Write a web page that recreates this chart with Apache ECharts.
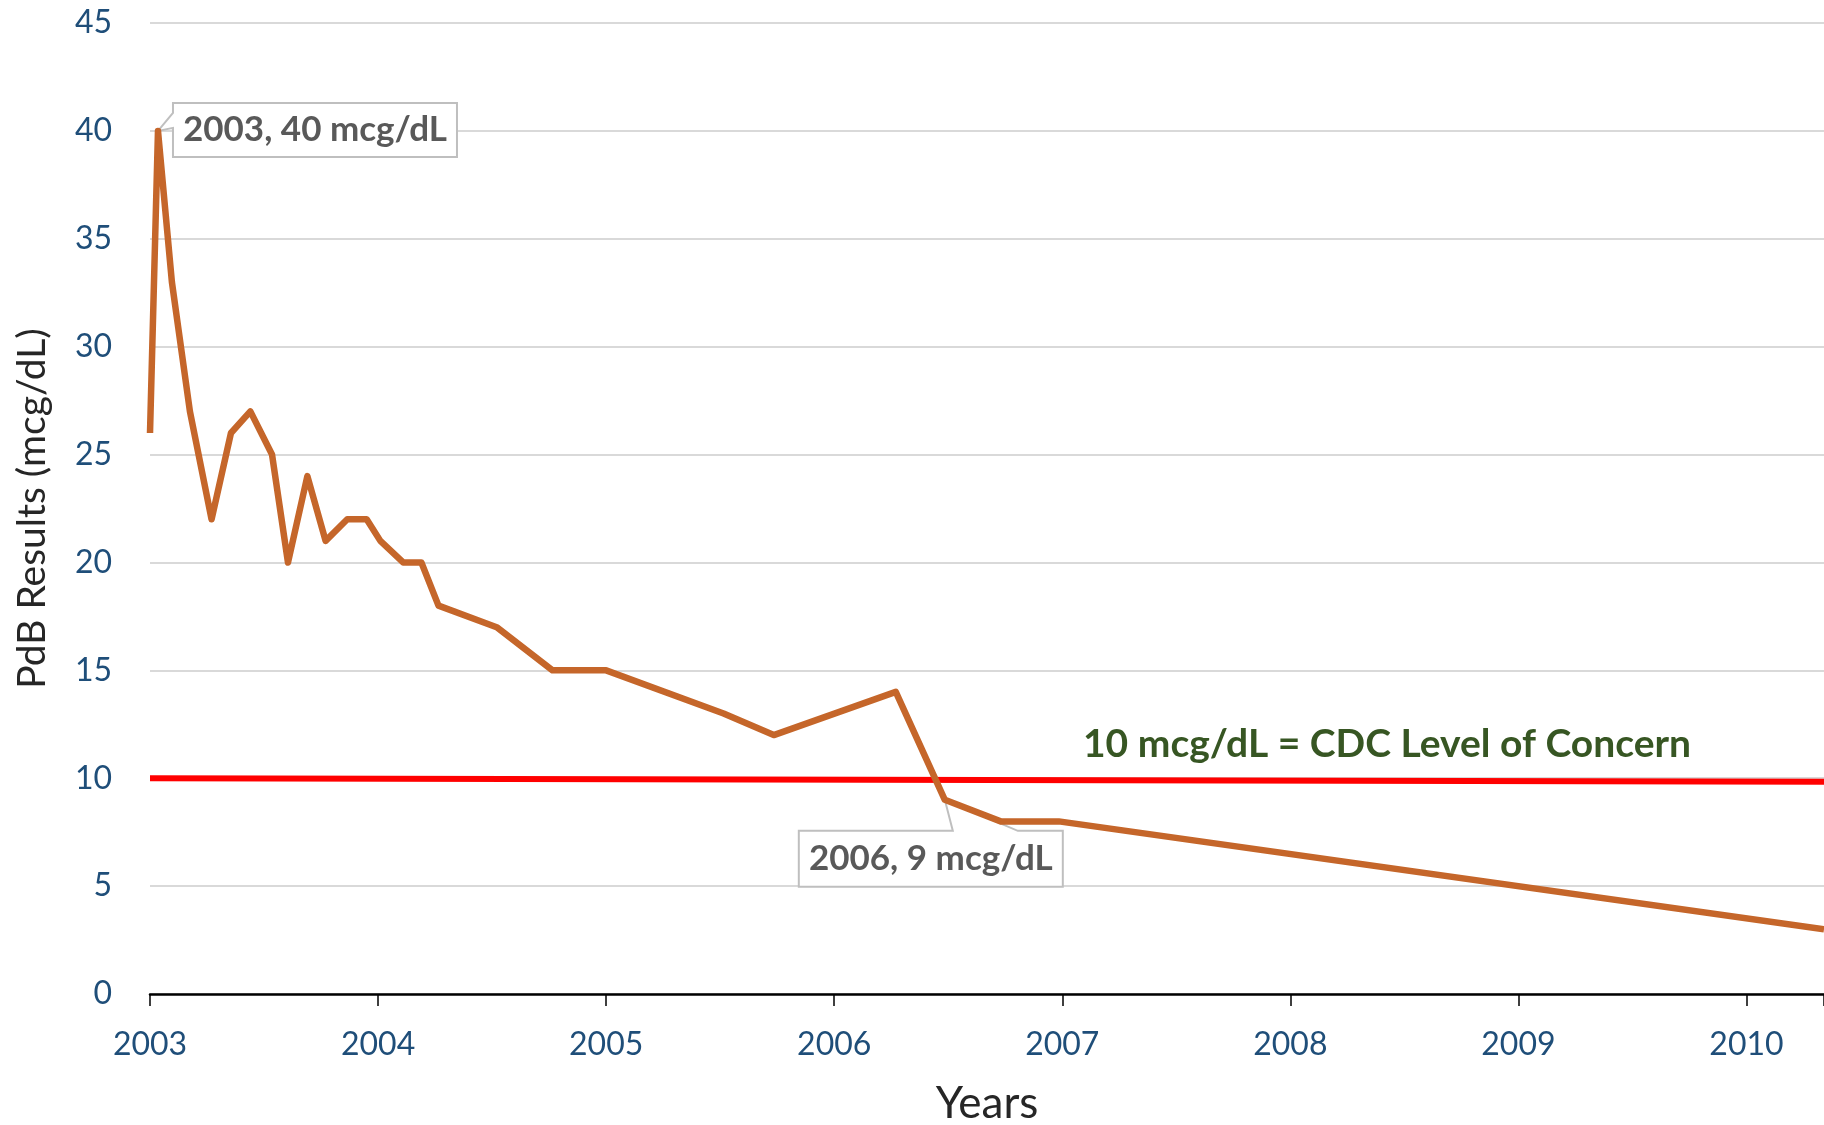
<!DOCTYPE html>
<html>
<head>
<meta charset="utf-8">
<script src="https://cdn.jsdelivr.net/npm/echarts@6/dist/echarts.min.js"></script>
<style>
  html, body { margin: 0; padding: 0; background: #fff; }
  #main { width: 1824px; height: 1125px; }
</style>
</head>
<body>
<div id="main"></div>
<script>
// PdB results over time (fractional years)
const years = [2003.0, 2003.035, 2003.096, 2003.175, 2003.27, 2003.355, 2003.44, 2003.535, 2003.605,
  2003.69, 2003.77, 2003.865, 2003.95, 2004.01, 2004.11, 2004.19, 2004.265, 2004.52, 2004.765,
  2005.0, 2005.515, 2005.735, 2006.27, 2006.485, 2006.73, 2006.985, 2010.34];
const pdb = [26, 40, 33, 27, 22, 26, 27, 25, 20, 24, 21, 22, 22, 21, 20, 20, 18, 17, 15,
  15, 13, 12, 14, 9, 8, 8, 3];

// CDC level of concern line (drawn slightly sloped in the original)
const cdcYears = [2003, 2010.34];
const cdcLevel = [10.0, 9.84];

// callouts
const noteYears = [2003.035, 2006.485];
const noteValues = [40, 9];
const noteTexts = ['2003, 40 mcg/dL', '2006, 9 mcg/dL'];

const yTicks = [0, 45, 5]; // min, max, step
const xRange = [2003, 2010.34];

// callout outlines relative to the anchor point (pixels)
const calloutShapes = [
  { outline: [[15, -28], [299, -28], [299, 26], [15, 26], [15, -3], [0, 0], [15, -18]], tx: 157, ty: -1 },
  { outline: [[-146, 31], [8, 31], [0, 0], [73, 31], [118, 31], [118, 87], [-146, 87]], tx: -14, ty: 59 }
];

var myChart = echarts.init(document.getElementById('main'));

const font = 'Lato, "Open Sans", sans-serif';

let option = {
  backgroundColor: '#fff',
  animation: false,
  grid: { left: 150, right: 0, top: 23, bottom: 131, outerBoundsMode: 'none', containLabel: false },
  xAxis: {
    type: 'value',
    min: xRange[0],
    max: xRange[1],
    interval: 1,
    name: 'Years',
    nameLocation: 'middle',
    nameGap: 88,
    nameTextStyle: { fontFamily: font, fontSize: 44, color: '#262626' },
    axisLine: { show: true, lineStyle: { color: '#000', width: 2.5 } },
    axisTick: { show: true, length: 12, lineStyle: { color: '#000', width: 1.5 } },
    axisLabel: {
      margin: 35,
      fontFamily: font, fontSize: 32, color: '#1F4E79',
      formatter: v => (Math.abs(v - Math.round(v)) < 1e-6 ? String(Math.round(v)) : '')
    },
    splitLine: { show: false }
  },
  yAxis: {
    type: 'value',
    min: yTicks[0],
    max: yTicks[1],
    interval: yTicks[2],
    name: 'PdB Results (mcg/dL)',
    nameLocation: 'middle',
    nameGap: 98,
    nameTextStyle: { fontFamily: font, fontSize: 39, color: '#262626' },
    axisLine: { show: false },
    axisTick: { show: false },
    axisLabel: { margin: 38, fontFamily: font, fontSize: 32, color: '#1F4E79' },
    splitLine: { lineStyle: { color: '#D9D9D9', width: 2 } }
  },
  graphic: [{
    type: 'text',
    left: 1083,
    top: 725,
    style: {
      text: '10 mcg/dL = CDC Level of Concern',
      fontFamily: font, fontSize: 39, fontWeight: 'bold', fill: '#375623'
    }
  }],
  series: [
    {
      name: 'CDC',
      type: 'line',
      data: cdcYears.map((x, i) => [x, cdcLevel[i]]),
      showSymbol: false,
      lineStyle: { color: '#FF0000', width: 6 },
      z: 2
    },
    {
      name: 'Callouts',
      type: 'custom',
      data: noteYears.map((x, i) => [x, noteValues[i]]),
      renderItem: function (params, api) {
        const p = api.coord([api.value(0), api.value(1)]);
        const s = calloutShapes[params.dataIndex];
        return {
          type: 'group',
          x: p[0],
          y: p[1],
          children: [
            { type: 'polygon', shape: { points: s.outline },
              style: { fill: '#fff', stroke: '#BFBFBF', lineWidth: 2 } },
            { type: 'text', x: s.tx, y: s.ty,
              style: { text: noteTexts[params.dataIndex], fontFamily: font, fontSize: 35,
                fontWeight: 'bold', fill: '#595959', align: 'center', verticalAlign: 'middle' } }
          ]
        };
      },
      z: 3
    },
    {
      name: 'PdB',
      type: 'line',
      data: years.map((x, i) => [x, pdb[i]]),
      showSymbol: false,
      lineStyle: { color: '#C5662A', width: 6.5, join: 'round' },
      z: 4
    }
  ]
};

myChart.setOption(option);
</script>
</body>
</html>
